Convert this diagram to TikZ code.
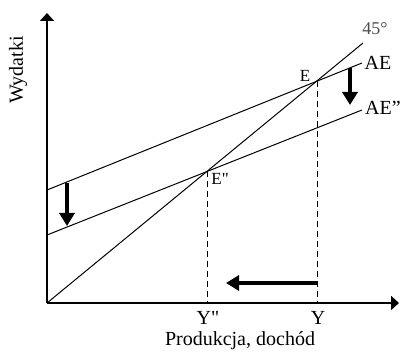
\documentclass[tikz,border=0pt]{standalone}
\usepackage{fontspec}
\setmainfont{Liberation Serif}
\newfontfamily\rawserif{Liberation Serif}
\usetikzlibrary{arrows.meta, positioning, calc}

\tikzset{
  axis/.style={line width=0.8pt, -{Triangle[width=7pt,length=4pt]}},
  sched/.style={line width=0.5pt},
  guide/.style={line width=0.5pt, dash pattern=on 3pt off 2pt},
  shiftarrow/.style={line width=2pt, -{Triangle[width=7.5pt,length=6.5pt]}},
  lbl/.style={font=\fontsize{10}{12}\selectfont, inner sep=0pt},
  smalllbl/.style={font=\fontsize{8.5}{10}\selectfont, inner sep=0pt},
}

\begin{document}
\begin{tikzpicture}[x=0.5pt, y=-0.5pt]
    \useasboundingbox (0,0) rectangle (400,356);

    % Axes
    \coordinate (O) at (47,303);
    \coordinate (ytop) at (47,13);
    \coordinate (xend) at (399,303);
    \draw[axis] (O) -- (ytop);
    \draw[axis] (O) -- (xend);
    \node[lbl, rotate=90] (wydatki) at (18,70) {Wydatki};
    \node[lbl] (produkcja) at (240,341) {Produkcja, dochód};

    % 45 degree line
    \coordinate (diagend) at (363,43);
    \draw[sched] (O) -- (diagend);
    \node[font=\fontsize{9}{10}\selectfont, inner sep=0pt, text=black!70] (deg) at (375,29) {45°};

    % Expenditure lines
    \coordinate (AEstart) at (47,190);
    \coordinate (AEend) at (362,63);
    \coordinate (AE2start) at (47,235);
    \coordinate (AE2end) at (362,110);
    \draw[sched] (AEstart) -- (AEend);
    \draw[sched] (AE2start) -- (AE2end);
    \node[lbl] (AE) at (378,63) {AE};
    \node[lbl] (AE2) at (383,108) {AE''};

    % Equilibria
    \coordinate (E) at (317,81);
    \coordinate (E2) at (207,171);
    \coordinate (Y) at (317,303);
    \coordinate (Y2) at (207,303);
    \draw[guide] (E) -- (Y);
    \draw[guide] (E2) -- (Y2);
    \node[smalllbl] (Elab) at (305,76) {E};
    \node[smalllbl, anchor=north west] (E2lab) at (211,173) {\rawserif E"};
    \node[lbl] (Ylab) at (318,318) {Y};
    \node[lbl] (Y2lab) at (208,318) {\rawserif Y"};

    % Shifts
    \coordinate (dropA) at (67,183);
    \coordinate (dropAend) at (67,226);
    \coordinate (dropB) at (350,68);
    \coordinate (dropBend) at (350,105);
    \coordinate (shiftY) at (317,283);
    \coordinate (shiftYend) at (226,283);
    \draw[shiftarrow] (dropA) -- (dropAend);
    \draw[shiftarrow] (dropB) -- (dropBend);
    \draw[shiftarrow] (shiftY) -- (shiftYend);
\end{tikzpicture}
\end{document}
